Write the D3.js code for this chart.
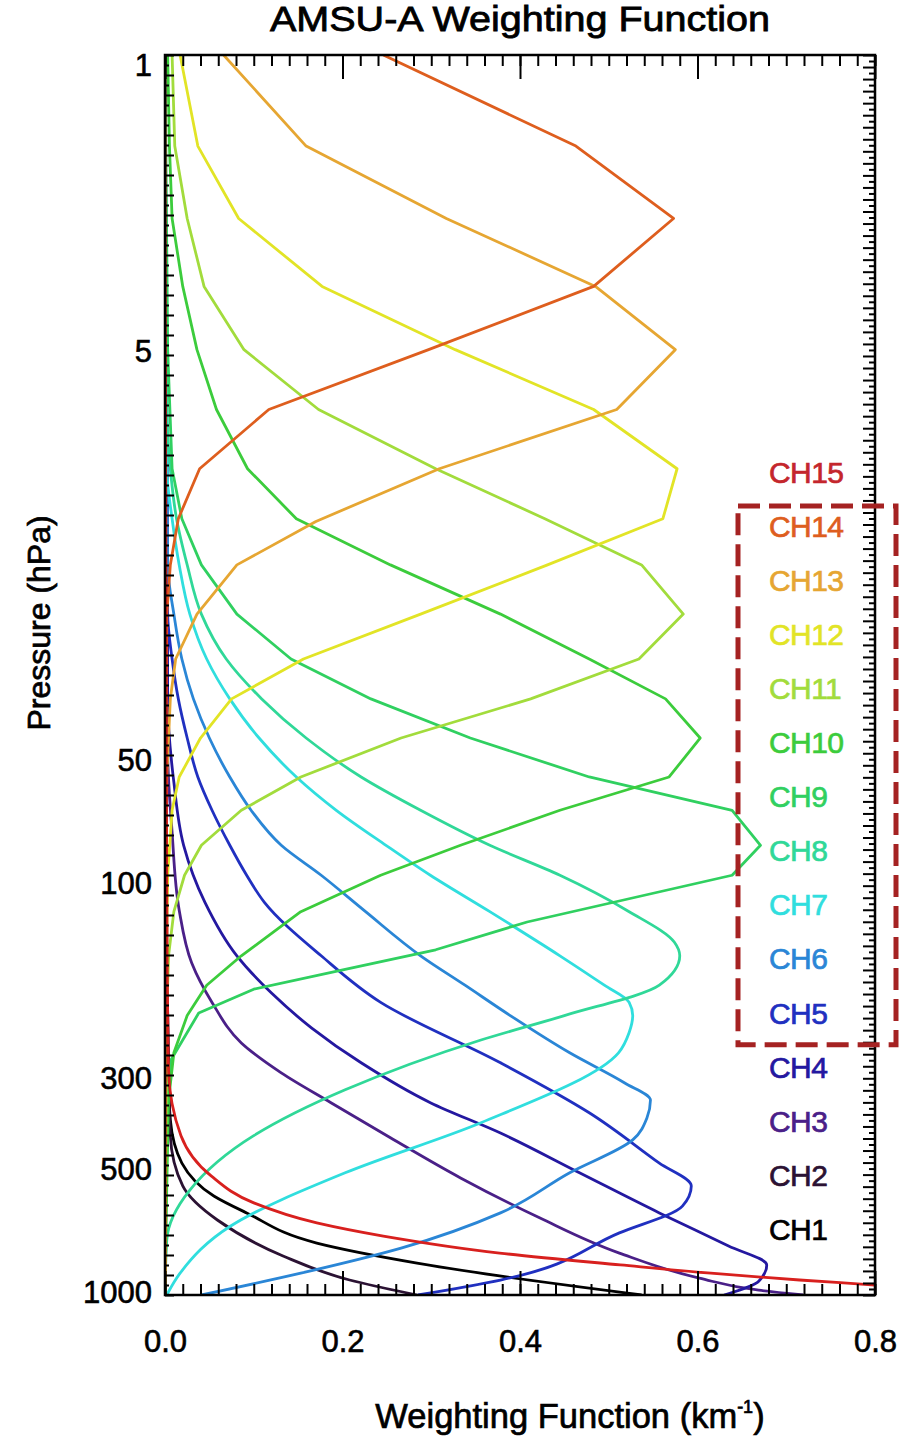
<!DOCTYPE html>
<html>
<head>
<meta charset="utf-8">
<script src="https://cdn.jsdelivr.net/npm/d3@7"></script>
<style>
  body { margin: 0; background: #fff; }
  svg { display: block; }
</style>
</head>
<body>
<svg id="graph"></svg>
<script>
// weighting function per channel, pairs of [pressure hPa, value km^-1]
const ch1 = [[0.94,0],[195,0.002],[300,0.004],[378,0.006],[482,0.019],[580,0.055],[638,0.092],[756,0.171],[846,0.284],[910,0.377],[1013,0.537]];
const ch2 = [[0.94,0],[147,0.002],[259,0.004],[413,0.006],[548,0.020],[664,0.059],[813,0.133],[931,0.208],[1013,0.284]];
const ch3 = [[0.94,0],[47.7,0.003],[74.8,0.008],[116,0.016],[156,0.030],[195,0.053],[245,0.086],[290,0.131],[343,0.187],[418,0.254],[524,0.333],[656,0.422],[800,0.512],[921,0.602],[986,0.669],[1013,0.719]];
const ch4 = [[0.94,0],[35.9,0.003],[56.5,0.010],[80.5,0.021],[111,0.045],[150,0.081],[185,0.120],[225,0.165],[274,0.221],[343,0.299],[407,0.378],[509,0.467],[638,0.557],[769,0.635],[855,0.678],[937,0.669],[1013,0.630]];
const ch5 = [[0.94,0],[21.9,0.003],[28.2,0.008],[35.3,0.015],[44.0,0.025],[54.8,0.037],[66.1,0.053],[80.5,0.073],[95.3,0.092],[111,0.112],[150,0.176],[195,0.243],[274,0.378],[363,0.478],[482,0.557],[548,0.593],[614,0.583],[714,0.512],[931,0.378],[1013,0.285]];
const ch6 = [[0.94,0],[16.6,0.003],[21.9,0.010],[28.2,0.019],[35.3,0.032],[44.0,0.050],[54.8,0.073],[66.1,0.097],[80.5,0.131],[95.3,0.176],[117,0.226],[150,0.288],[177,0.338],[210,0.389],[259,0.456],[307,0.518],[338,0.547],[374,0.543],[423,0.527],[509,0.456],[638,0.378],[778,0.266],[896,0.153],[1013,0.041]];
const ch7 = [[0.94,0],[9.66,0.002],[12.8,0.008],[16.6,0.016],[21.9,0.028],[28.2,0.047],[35.3,0.073],[44.0,0.106],[54.8,0.148],[66.1,0.193],[80.5,0.249],[95.3,0.299],[117,0.366],[150,0.445],[177,0.495],[195,0.523],[210,0.527],[231,0.523],[259,0.511],[384,0.356],[509,0.203],[687,0.074],[896,0.017],[1013,0.002]];
const ch8 = [[0.94,0],[6.92,0.002],[9.66,0.006],[12.8,0.013],[16.6,0.025],[21.9,0.041],[28.2,0.069],[35.3,0.109],[44.0,0.159],[54.8,0.221],[66.1,0.288],[80.5,0.366],[95.3,0.445],[117,0.523],[139,0.574],[150,0.580],[177,0.557],[210,0.450],[241,0.356],[319,0.203],[413,0.100],[561,0.028],[743,0.002],[1013,0]];
const ch9 = [[0.94,0],[4.94,0.003],[9.66,0.008],[12.8,0.019],[16.6,0.041],[21.9,0.081],[28.2,0.142],[35.3,0.232],[44.0,0.344],[54.8,0.478],[66.1,0.639],[80.5,0.671],[95.3,0.639],[124,0.408],[145,0.305],[162,0.203],[181,0.100],[207,0.038],[269,0.007],[343,0.002],[1013,0]];
const ch10 = [[0.94,0.003],[1.57,0.005],[2.36,0.008],[3.46,0.020],[4.94,0.036],[6.92,0.058],[9.66,0.093],[12.8,0.148],[16.6,0.254],[21.9,0.378],[28.2,0.478],[35.3,0.564],[44.0,0.603],[54.8,0.568],[66.1,0.445],[80.5,0.333],[95.3,0.243],[117,0.153],[150,0.086],[177,0.047],[210,0.025],[259,0.010],[338,0.004],[548,0.002],[1013,0]];
const ch11 = [[0.94,0.008],[1.57,0.011],[2.36,0.025],[3.46,0.044],[4.94,0.089],[6.92,0.173],[9.66,0.305],[12.8,0.428],[16.6,0.537],[21.9,0.584],[28.2,0.534],[35.3,0.412],[44.0,0.266],[54.8,0.153],[66.1,0.086],[80.5,0.041],[95.3,0.022],[117,0.010],[150,0.004],[210,0.002],[1013,0]];
const ch12 = [[0.94,0.017],[1.57,0.037],[2.36,0.083],[3.46,0.177],[4.94,0.327],[6.92,0.483],[9.66,0.577],[12.8,0.561],[16.6,0.431],[21.9,0.288],[28.2,0.156],[35.3,0.075],[44.0,0.040],[54.8,0.016],[66.1,0.008],[95.3,0.003],[195,0.001],[1013,0]];
const ch13 = [[0.94,0.066],[1.57,0.159],[2.36,0.317],[3.46,0.485],[4.94,0.575],[6.92,0.509],[9.66,0.309],[13.0,0.170],[16.6,0.081],[21.9,0.036],[28.2,0.012],[35.3,0.006],[54.8,0.002],[111,0.001],[1013,0]];
const ch14 = [[0.94,0.246],[1.57,0.463],[2.36,0.573],[3.46,0.483],[4.94,0.297],[6.92,0.117],[9.66,0.039],[12.8,0.015],[16.6,0.006],[21.9,0.002],[50,0.001],[1013,0]];
const ch15 = [[0.94,0],[16.3,0.001],[111,0.002],[285,0.004],[413,0.018],[518,0.052],[603,0.100],[675,0.171],[727,0.246],[800,0.377],[855,0.513],[896,0.615],[931,0.715],[958,0.801],[1013,0.95]];

const channelNames = ["CH1","CH2","CH3","CH4","CH5","CH6","CH7","CH8","CH9","CH10","CH11","CH12","CH13","CH14","CH15"];
const pressureTicks = [1, 5, 50, 100, 300, 500, 1000];
const wfTicks = [0, 0.2, 0.4, 0.6, 0.8];
const highlighted = ["CH14","CH5"];   // first and last channel inside the dashed box

const palette = ["#000000","#2b1233","#4a2088","#2418a0","#2030c0","#2a86d6","#30dede","#30d898",
                 "#30d060","#3ccc3c","#a2dc3c","#e2e426","#e6a632","#de5e1e","#d8201e"];

const WIDTH = 899;
const HEIGHT = 1440;
const plot = {left: 165, right: 875, top: 55, bottom: 1295};
const FONT = "'Liberation Sans', Arial, Helvetica, sans-serif";

const svg = d3.select("#graph")
    .attr("width", WIDTH)
    .attr("height", HEIGHT)
    .style("font-family", FONT);

const x = d3.scaleLinear().domain([0, 0.8]).range([plot.left, plot.right]);
const y = d3.scaleLog().domain([0.94, 1013]).range([plot.top, plot.bottom]);

// helper scales just for the dense frame ticks
const leftTickScale = d3.scaleLinear().domain([0, 124]).range([plot.bottom, plot.top]);
const rightTickScale = d3.scaleLinear().domain([0, 206]).range([plot.bottom, plot.top]);

svg.append("defs").append("clipPath").attr("id", "plotclip")
  .append("rect")
    .attr("x", plot.left).attr("y", plot.top)
    .attr("width", plot.right - plot.left).attr("height", plot.bottom - plot.top);

const series = [ch1, ch2, ch3, ch4, ch5, ch6, ch7, ch8, ch9, ch10, ch11, ch12, ch13, ch14, ch15]
    .map((pts, i) => ({name: channelNames[i], pts, color: palette[i], kinked: i >= 8 && i <= 13}));

const smoothLine = d3.line().x(d => x(d[1])).y(d => y(d[0])).curve(d3.curveMonotoneY);
const kinkLine = d3.line().x(d => x(d[1])).y(d => y(d[0]));

svg.append("g")
    .attr("clip-path", "url(#plotclip)")
    .attr("fill", "none")
    .attr("stroke-width", 2.8)
    .attr("stroke-linejoin", "round")
  .selectAll("path")
  .data(series)
  .join("path")
    .attr("stroke", d => d.color)
    .attr("d", d => d.kinked ? kinkLine(d.pts) : smoothLine(d.pts));

// frame ticks
function noDomain(g) { g.select(".domain").remove(); g.selectAll("line").attr("stroke", "#000").attr("stroke-width", 2); }
function heavy(g, size) {
  g.selectAll("text").attr("font-size", size).attr("font-family", FONT)
    .attr("fill", "#000").attr("stroke", "#000").attr("stroke-width", 0.6);
}

const minorX = d3.range(0, 41).map(i => i * 0.02);
svg.append("g").attr("transform", `translate(0,${plot.bottom})`)
    .call(d3.axisBottom(x).tickValues(minorX).tickSize(-11).tickFormat(""))
    .call(noDomain);
svg.append("g").attr("transform", `translate(0,${plot.top})`)
    .call(d3.axisTop(x).tickValues(minorX).tickSize(-11).tickFormat(""))
    .call(noDomain);
svg.append("g").attr("transform", `translate(0,${plot.bottom})`)
    .call(d3.axisBottom(x).tickValues(wfTicks).tickSize(-24).tickPadding(35).tickFormat(d3.format(".1f")))
    .call(noDomain)
    .call(g => heavy(g, 31));
svg.append("g").attr("transform", `translate(0,${plot.top})`)
    .call(d3.axisTop(x).tickValues(wfTicks).tickSize(-24).tickFormat(""))
    .call(noDomain);

svg.append("g").attr("transform", `translate(${plot.left},0)`)
    .call(d3.axisLeft(leftTickScale).tickValues(d3.range(0, 125, 2)).tickSize(-9).tickFormat(""))
    .call(noDomain);
svg.append("g").attr("transform", `translate(${plot.left},0)`)
    .call(d3.axisLeft(leftTickScale).tickValues(d3.range(1, 125, 2)).tickSize(-4).tickFormat(""))
    .call(noDomain);
svg.append("g").attr("transform", `translate(${plot.left},0)`)
    .call(d3.axisLeft(y).tickValues(pressureTicks).tickSize(0).tickPadding(13).tickFormat(d3.format("d")))
    .call(noDomain)
    .call(g => heavy(g, 31));

svg.append("g").attr("transform", `translate(${plot.right},0)`)
    .call(d3.axisRight(rightTickScale).tickValues(d3.range(0, 207, 2)).tickSize(-12).tickFormat(""))
    .call(noDomain);
svg.append("g").attr("transform", `translate(${plot.right},0)`)
    .call(d3.axisRight(rightTickScale).tickValues(d3.range(1, 207, 2)).tickSize(-6).tickFormat(""))
    .call(noDomain);

svg.append("rect")
    .attr("x", plot.left).attr("y", plot.top)
    .attr("width", plot.right - plot.left).attr("height", plot.bottom - plot.top)
    .attr("fill", "none").attr("stroke", "#000").attr("stroke-width", 2.5);

// channel labels
const labelY = d3.scalePoint().domain(channelNames.slice().reverse()).range([472, 1229]);
svg.append("g")
  .selectAll("text")
  .data(series)
  .join("text")
    .attr("x", 769)
    .attr("y", d => labelY(d.name))
    .attr("dy", "0.36em")
    .attr("font-size", 30)
    .attr("letter-spacing", -0.6)
    .attr("fill", d => d.name === "CH15" ? "#c4262c" : d.color)
    .attr("stroke", d => d.name === "CH15" ? "#c4262c" : d.color)
    .attr("stroke-width", 0.7)
    .text(d => d.name);

// dashed box round CH14..CH5
const boxTop = labelY(highlighted[0]) - 20;
const boxBottom = labelY(highlighted[1]) + 32;
svg.append("rect")
    .attr("x", 738).attr("y", boxTop)
    .attr("width", 158).attr("height", boxBottom - boxTop)
    .attr("fill", "none")
    .attr("stroke", "#a52222")
    .attr("stroke-width", 5)
    .attr("stroke-dasharray", "22,9");

// titles
svg.append("text")
    .attr("x", 520).attr("y", 31)
    .attr("text-anchor", "middle")
    .attr("font-size", 35)
    .attr("textLength", 500)
    .attr("lengthAdjust", "spacingAndGlyphs")
    .attr("stroke", "#000").attr("stroke-width", 0.8)
    .text("AMSU-A Weighting Function");

svg.append("text")
    .attr("transform", "translate(50,623) rotate(-90)")
    .attr("text-anchor", "middle")
    .attr("font-size", 32)
    .attr("stroke", "#000").attr("stroke-width", 0.7)
    .text("Pressure (hPa)");

const xt = svg.append("text")
    .attr("x", 570).attr("y", 1428)
    .attr("text-anchor", "middle")
    .attr("font-size", 34.5)
    .attr("stroke", "#000").attr("stroke-width", 0.7);
xt.append("tspan").text("Weighting Function (km");
xt.append("tspan").attr("font-size", 18).attr("dy", -15).text("-1");
xt.append("tspan").attr("dy", 15).text(")");
</script>
</body>
</html>
